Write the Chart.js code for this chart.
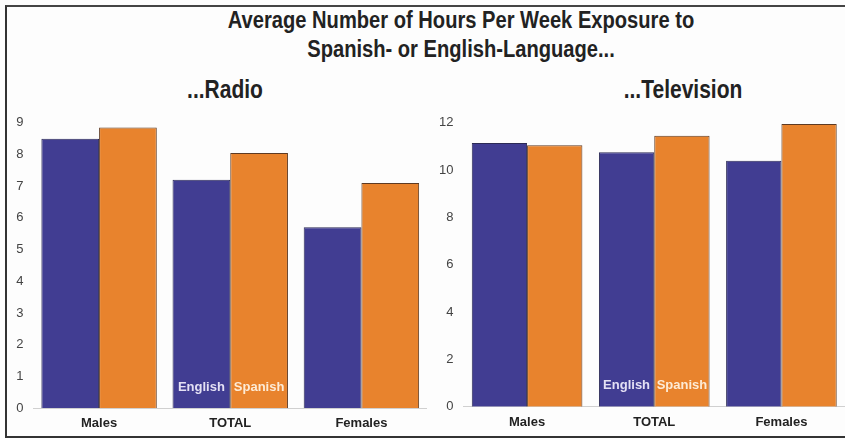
<!DOCTYPE html>
<html>
<head>
<meta charset="utf-8">
<script src="https://cdn.jsdelivr.net/npm/chart.js@4"></script>
<style>
    html, body { margin: 0; padding: 0; background: #fdfdfd; }
    #page { position: relative; width: 845px; height: 440px; overflow: hidden; }
    #frame { position: absolute; left: 5px; top: 5px; width: 850px; height: 429px;
             border-left: 2px solid #333; border-top: 2px solid #444; border-bottom: 2px solid #333; }
    .ttl { position: absolute; font-family: "Liberation Sans", Arial, sans-serif;
           font-weight: bold; color: #222; text-align: center; white-space: nowrap;
           transform-origin: center; }
    canvas { position: absolute; }
</style>
</head>
<body>
<div id="page">
    <div class="ttl" style="left:110.5px; top:5.5px; width:700px; font-size:23px; line-height:29px; transform:scaleX(0.875);">Average Number of Hours Per Week Exposure to<br>Spanish- or English-Language...</div>
    <div class="ttl" style="left:125px; top:75px; width:200px; font-size:25px; line-height:28px; transform:scaleX(0.84);">...Radio</div>
    <div class="ttl" style="left:583px; top:75px; width:200px; font-size:25px; line-height:28px; transform:scaleX(0.84);">...Television</div>
    <canvas id="radio-chart" width="427" height="330" style="left:0; top:105px;"></canvas>
    <canvas id="tv-chart" width="415" height="330" style="left:430px; top:105px;"></canvas>
    <div id="frame"></div>
</div>
<script>
const categories = ['Males', 'TOTAL', 'Females'];
const seriesNames = ['English', 'Spanish'];

const radioEnglish = [8.5, 7.2, 5.7];
const radioSpanish = [8.85, 8.05, 7.1];
const radioMax = 9;
const radioStep = 1;

const tvEnglish = [11.15, 10.75, 10.4];
const tvSpanish = [11.05, 11.45, 11.95];
const tvMax = 12;
const tvStep = 2;

const labelCategory = 'TOTAL';

const blue = '#413d92';
const orange = '#e8832d';

// writes the series names inside the TOTAL bars
const innerLabels = {
    id: 'innerLabels',
    afterDatasetsDraw(chart) {
        const ctx = chart.ctx;
        const idx = chart.data.labels.indexOf(labelCategory);
        ctx.save();
        ctx.font = 'bold 13px "Liberation Sans", Arial, sans-serif';
        ctx.textAlign = 'center';
        ctx.textBaseline = 'middle';
        chart.data.datasets.forEach((ds, i) => {
            const bar = chart.getDatasetMeta(i).data[idx];
            ctx.fillStyle = i === 0 ? '#e4e0f4' : '#fdebd6';
            ctx.fillText(ds.label, bar.x, chart.chartArea.bottom - 21);
        });
        ctx.restore();
    }
};

function makeChart(id, english, spanish, max, step, catPct, bottomH) {
    return new Chart(document.getElementById(id), {
        type: 'bar',
        data: {
            labels: categories,
            datasets: [{
                label: seriesNames[0],
                data: english,
                backgroundColor: blue,
                borderColor: '#2c2a55',
                borderWidth: 1
            }, {
                label: seriesNames[1],
                data: spanish,
                backgroundColor: orange,
                borderColor: '#5e3a22',
                borderWidth: 1
            }]
        },
        options: {
            responsive: false,
            animation: false,
            categoryPercentage: catPct,
            barPercentage: 1,
            layout: { padding: { top: 15, right: 0, left: 0, bottom: 0 } },
            scales: {
                x: {
                    grid: { display: false, drawTicks: false },
                    border: { display: true, color: '#d0d0d0' },
                    ticks: {
                        padding: 8,
                        color: '#222',
                        font: { family: '"Liberation Sans", Arial, sans-serif', size: 13, weight: 'bold' }
                    },
                    afterFit(scale) { scale.height = bottomH; }
                },
                y: {
                    min: 0,
                    max: max,
                    grid: { display: false, drawTicks: false },
                    border: { display: false },
                    ticks: {
                        stepSize: step,
                        padding: 10,
                        color: '#444',
                        font: { family: '"Liberation Sans", Arial, sans-serif', size: 13 }
                    },
                    afterFit(scale) { scale.width = 33.5; }
                }
            },
            plugins: {
                legend: { display: false },
                tooltip: { enabled: false }
            }
        },
        plugins: [innerLabels]
    });
}

makeChart('radio-chart', radioEnglish, radioSpanish, radioMax, radioStep, 0.88, 27);
makeChart('tv-chart', tvEnglish, tvSpanish, tvMax, tvStep, 0.87, 28.3);
</script>
</body>
</html>
